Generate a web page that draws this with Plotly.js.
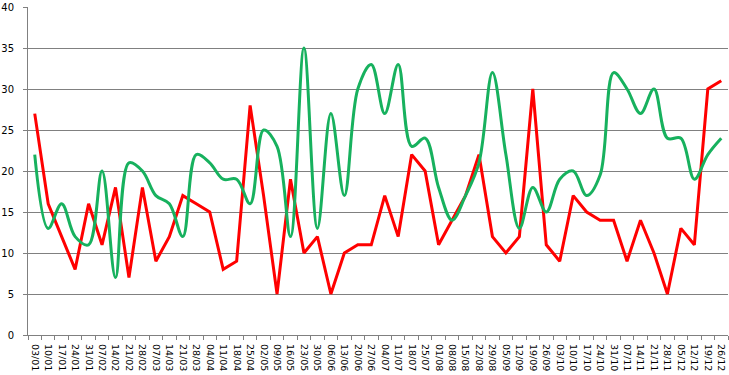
<!DOCTYPE html>
<html>
<head>
<meta charset="utf-8">
<script src="https://cdn.plot.ly/plotly-3.0.1.min.js"></script>
<style>html,body{margin:0;padding:0;background:#fff;}#chart{width:729px;height:375px;}</style>
</head>
<body>
<div id="chart"></div>
<script>
var weeks = ["03/01","10/01","17/01","24/01","31/01","07/02","14/02","21/02","28/02","07/03","14/03","21/03","28/03","04/04","11/04","18/04","25/04","02/05","09/05","16/05","23/05","30/05","06/06","13/06","20/06","27/06","04/07","11/07","18/07","25/07","01/08","08/08","15/08","22/08","29/08","05/09","12/09","19/09","26/09","03/10","10/10","17/10","24/10","31/10","07/11","14/11","21/11","28/11","05/12","12/12","19/12","26/12"];
var redSeries = [27,16,12,8,16,11,18,7,18,9,12,17,16,15,8,9,28,17,5,19,10,12,5,10,11,11,17,12,22,20,11,14,17,22,12,10,12,30,11,9,17,15,14,14,9,14,10,5,13,11,30,31];
var greenSeries = [22,13,16,12,11,20,7,21,20,17,16,12,22,21,19,19,16,25,23,12,35,13,27,17,30,33,27,33,23,24,18,14,17,21,32,22,13,18,15,19,20,17,19.5,32,30,27,30,24,24,19,22,24];
var yTicks = [0,5,10,15,20,25,30,35,40];

var font = {family: "DejaVu Sans, Verdana, sans-serif", size: 10, color: "#000"};
var data = [
  {x: weeks, y: redSeries, type: "scatter", mode: "lines", line: {color: "#ff0000", width: 3}, hoverinfo: "none"},
  {x: weeks, y: greenSeries, type: "scatter", mode: "lines", line: {color: "#17b15e", width: 3, shape: "spline", smoothing: 1}, hoverinfo: "none"}
];
var layout = {
  width: 729, height: 375,
  margin: {l: 28, r: 1, t: 7, b: 40},
  showlegend: false,
  paper_bgcolor: "#fff", plot_bgcolor: "#fff",
  font: font,
  xaxis: {
    type: "category", tickangle: 90, tickfont: {family: font.family, size: 9.5, color: "#000"},
    showgrid: false, showline: true, linecolor: "#808080", linewidth: 1,
    ticks: "outside", tickson: "boundaries", ticklen: 4, tickcolor: "#808080",
    ticklabelstandoff: 6,
    range: [-0.5, 51.5], zeroline: false
  },
  yaxis: {
    range: [0, 40], tickvals: yTicks, tickfont: font,
    showgrid: true, gridcolor: "#808080", gridwidth: 1,
    showline: true, linecolor: "#808080", linewidth: 1,
    ticks: "outside", ticklen: 4, tickcolor: "#808080", zeroline: false,
    ticklabelstandoff: 7
  }
};
Plotly.newPlot("chart", data, layout, {staticPlot: true});
</script>
</body>
</html>
